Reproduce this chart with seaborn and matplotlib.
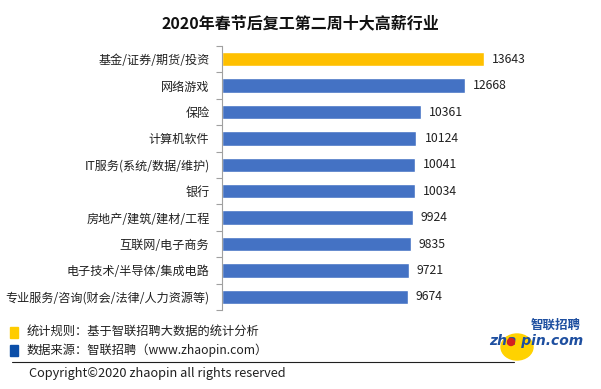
import matplotlib
matplotlib.use('Agg')
import matplotlib.pyplot as plt
import seaborn as sns
import pandas as pd
from matplotlib.patches import Rectangle, Ellipse
from matplotlib.lines import Line2D

# data
industries = ["基金/证券/期货/投资", "网络游戏", "保险", "计算机软件",
              "IT服务(系统/数据/维护)", "银行", "房地产/建筑/建材/工程",
              "互联网/电子商务", "电子技术/半导体/集成电路",
              "专业服务/咨询(财会/法律/人力资源等)"]
salary = [13643, 12668, 10361, 10124, 10041, 10034, 9924, 9835, 9721, 9674]
highlight = ["top"] + ["other"] * 9

title = "2020年春节后复工第二周十大高薪行业"
note_rule = "统计规则：基于智联招聘大数据的统计分析"
note_source = "数据来源：智联招聘（www.zhaopin.com）"
copyright_txt = "Copyright©2020 zhaopin all rights reserved"

sns.set_theme(style="white")
plt.rcParams['font.family'] = ['Noto Sans CJK SC', 'DejaVu Sans']

df = pd.DataFrame({"industry": industries, "salary": salary, "group": highlight})

fig = plt.figure(figsize=(6.01, 3.89), dpi=100)
ax = fig.add_axes([222 / 601, 1 - 310 / 389, 368 / 601, 264 / 389])

sns.barplot(data=df, x="salary", y="industry", hue="group",
            palette={"top": "#FFC000", "other": "#4472C4"},
            dodge=False, width=0.55, legend=False, ax=ax, saturation=1)

for i, v in enumerate(salary):
    ax.text(v + 420, i, str(v), va="center", ha="left", fontsize=8.8, color="#202020")

ax.set_xlim(0, 19170)
ax.set_ylim(9.5, -0.5)
ax.set_xlabel("")
ax.set_ylabel("")
ax.set_xticks([])
ax.tick_params(axis="y", which="major", length=0, labelsize=8.7, labelcolor="#202020", pad=9)
ax.set_yticks([i - 0.5 for i in range(11)], minor=True)
ax.tick_params(axis="y", which="minor", length=4, color="#a0a0a0", width=0.8, left=True)
for s in ["top", "right", "bottom"]:
    ax.spines[s].set_visible(False)
ax.spines["left"].set_color("#a0a0a0")
ax.spines["left"].set_linewidth(0.8)

fig.text(300 / 601, 1 - 23 / 389, title, ha="center", va="center",
         fontsize=11.5, fontweight="bold", color="#111111")

# legend notes
fig.patches.append(Rectangle((10 / 601, 1 - 338 / 389), 8 / 601, 11 / 389,
                             transform=fig.transFigure, color="#FFCC00"))
fig.patches.append(Rectangle((10 / 601, 1 - 356 / 389), 8 / 601, 11 / 389,
                             transform=fig.transFigure, color="#0B4EA8"))
fig.text(27 / 601, 1 - 331 / 389, note_rule, ha="left", va="center", fontsize=8.8, color="#202020")
fig.text(27 / 601, 1 - 350 / 389, note_source, ha="left", va="center", fontsize=8.8, color="#202020")
fig.lines.append(Line2D([12 / 601, 514 / 601], [1 - 362 / 389, 1 - 362 / 389],
                        transform=fig.transFigure, color="#202020", linewidth=0.8))
fig.text(29 / 601, 1 - 374 / 389, copyright_txt, ha="left", va="center", fontsize=9.2, color="#202020")

# logo
fig.patches.append(Ellipse((517 / 601, 1 - 347 / 389), 32 / 601, 26 / 389,
                           transform=fig.transFigure, color="#FFD200", zorder=1))
fig.text(581 / 601, 1 - 325 / 389, "智联招聘", ha="right", va="center", fontsize=9,
         fontweight="bold", style="italic", color="#1E4FA0", zorder=3)
fig.text(583 / 601, 1 - 341 / 389, "zha pin.com", ha="right", va="center", fontsize=10,
         fontweight="bold", style="italic", color="#1E4FA0", zorder=3,
         family="DejaVu Sans")
fig.patches.append(Ellipse((511 / 601, 1 - 342 / 389), 7 / 601, 7 / 389,
                           transform=fig.transFigure, color="#D42020", zorder=4))

fig.savefig("out.png", dpi=100)
